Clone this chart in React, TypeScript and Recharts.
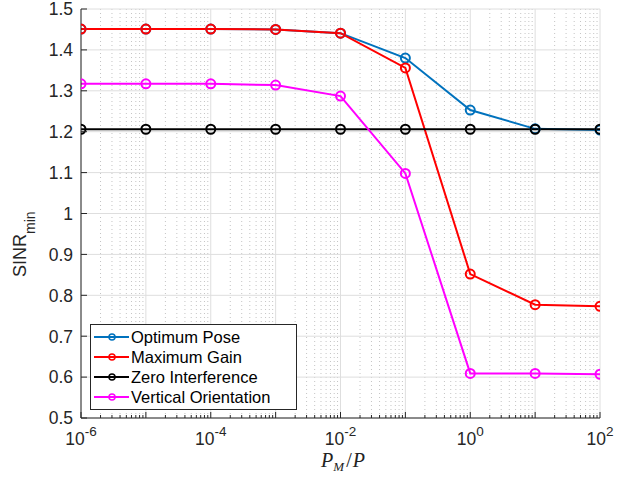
import { LineChart, Line, XAxis, YAxis, CartesianGrid, Legend } from 'recharts';

// P_M / P sweep
const ratios = [1e-6, 1e-5, 1e-4, 1e-3, 1e-2, 1e-1, 1, 10, 100];

const optimumPose = [1.451, 1.451, 1.451, 1.45, 1.441, 1.38, 1.253, 1.207, 1.204];
const maximumGain = [1.451, 1.451, 1.451, 1.45, 1.441, 1.356, 0.852, 0.777, 0.773];
const zeroInterference = [1.206, 1.206, 1.206, 1.206, 1.206, 1.206, 1.206, 1.206, 1.206];
const verticalOrientation = [1.317, 1.317, 1.317, 1.314, 1.287, 1.098, 0.609, 0.609, 0.607];

const decades = [1e-6, 1e-5, 1e-4, 1e-3, 1e-2, 1e-1, 1, 10, 100];
const labeledDecades = [1e-6, 1e-4, 1e-2, 1, 100];
const yTicks = [0.5, 0.6, 0.7, 0.8, 0.9, 1, 1.1, 1.2, 1.3, 1.4, 1.5];

const minorX: number[] = [];
decades.slice(0, -1).forEach((d) => {
  for (let k = 2; k <= 9; k++) minorX.push(k * d);
});
const allX = [...decades, ...minorX];

const series = [
  { key: 'optimum', name: 'Optimum Pose', color: '#0072BD', values: optimumPose },
  { key: 'maxGain', name: 'Maximum Gain', color: '#FF0000', values: maximumGain },
  { key: 'zero', name: 'Zero Interference', color: '#000000', values: zeroInterference },
  { key: 'vertical', name: 'Vertical Orientation', color: '#FF00FF', values: verticalOrientation },
];

const data = ratios.map((r, i) => {
  const row: Record<string, number> = { x: r };
  series.forEach((s) => (row[s.key] = s.values[i]));
  return row;
});

const AXIS = '#262626';
const FONT = '"Liberation Sans", Arial, Helvetica, sans-serif';

const isDecade = (v: number) => decades.some((d) => Math.abs(d - v) / d < 1e-9);
const isLabeled = (v: number) => labeledDecades.some((d) => Math.abs(d - v) / d < 1e-9);

const BottomTick = ({ x, y, payload }: any) => {
  const v = payload.value;
  const len = isDecade(v) ? 6 : 3;
  return (
    <g>
      <line x1={x} x2={x} y1={y} y2={y - len} stroke={AXIS} />
      {isLabeled(v) && (
        <text x={x} y={y + 27} textAnchor="middle" fontSize={17.5} fill={AXIS} fontFamily={FONT}>
          10
          <tspan dy={-9} fontSize={13.5}>{Math.round(Math.log10(v))}</tspan>
        </text>
      )}
    </g>
  );
};

const TopTick = ({ x, y, payload }: any) => {
  const len = isDecade(payload.value) ? 6 : 3;
  return <line x1={x} x2={x} y1={y} y2={y + len} stroke={AXIS} />;
};

const LeftTick = ({ x, y, payload }: any) => (
  <g>
    <line x1={x} x2={x + 6} y1={y} y2={y} stroke={AXIS} />
    <text x={x - 8} y={y} dy="0.36em" textAnchor="end" fontSize={17.5} fill={AXIS} fontFamily={FONT}>
      {String(payload.value)}
    </text>
  </g>
);

const RightTick = ({ x, y }: any) => <line x1={x} x2={x - 6} y1={y} y2={y} stroke={AXIS} />;

const renderLegend = () => (
  <div
    style={{
      border: `1px solid ${AXIS}`,
      background: '#fff',
      width: 205,
      height: 82,
      boxSizing: 'content-box',
      paddingTop: 2,
      fontFamily: FONT,
    }}
  >
    {series.map((s) => (
      <div key={s.key} style={{ display: 'flex', alignItems: 'center', height: 20 }}>
        <svg width={40} height={20}>
          <line x1={3} x2={38} y1={10} y2={10} stroke={s.color} strokeWidth={2} />
          <circle cx={21} cy={10} r={3} fill="none" stroke={s.color} strokeWidth={1.5} />
        </svg>
        <span style={{ fontSize: 16.5, color: '#000', lineHeight: '20px' }}>{s.name}</span>
      </div>
    ))}
  </div>
);

export default function App() {
  return (
    <div style={{ position: 'absolute', left: 0, top: 0, width: 634, height: 478, background: '#fff' }}>
      <LineChart width={634} height={478} data={data} margin={{ top: 9, right: 34, bottom: 0, left: 0 }}>
        <CartesianGrid
          horizontal={false}
          verticalValues={minorX}
          stroke="#c4c4c4"
          strokeDasharray="1 3"
        />
        <CartesianGrid
          horizontalValues={yTicks}
          verticalValues={decades}
          stroke="#dedede"
        />
        <XAxis
          dataKey="x"
          type="number"
          scale="log"
          domain={[1e-6, 100]}
          allowDataOverflow
          ticks={allX}
          interval={0}
          height={60}
          tickSize={0}
          tickMargin={0}
          tick={<BottomTick />}
          axisLine={{ stroke: AXIS }}
          label={{
            content: () => (
              <text x={343} y={467} textAnchor="middle" fontFamily='"Liberation Serif", "DejaVu Serif", serif' fontStyle="italic" fontSize={20} fill="#222">
                P
                <tspan dy={4} fontSize={13}>M</tspan>
                <tspan dy={-4} dx={2} fontStyle="normal">/</tspan>
                <tspan dx={1}>P</tspan>
              </text>
            ),
          }}
        />
        <XAxis
          xAxisId="top"
          dataKey="x"
          type="number"
          scale="log"
          domain={[1e-6, 100]}
          allowDataOverflow
          orientation="top"
          ticks={allX}
          interval={0}
          height={0}
          tickSize={0}
          tickMargin={0}
          tick={<TopTick />}
          axisLine={{ stroke: AXIS }}
        />
        <YAxis
          type="number"
          domain={[0.5, 1.5]}
          ticks={yTicks}
          interval={0}
          width={81}
          tickSize={0}
          tickMargin={0}
          tick={<LeftTick />}
          axisLine={{ stroke: AXIS }}
          label={{
            content: () => (
              <text transform="translate(26, 277) rotate(-90)" fontFamily={FONT} fontSize={18} fill={AXIS}>
                SINR
                <tspan dy={9} fontSize={14}>min</tspan>
              </text>
            ),
          }}
        />
        <YAxis
          yAxisId="right"
          orientation="right"
          type="number"
          domain={[0.5, 1.5]}
          ticks={yTicks}
          interval={0}
          width={0}
          tickSize={0}
          tickMargin={0}
          tick={<RightTick />}
          axisLine={{ stroke: AXIS }}
        />
        {series.map((s) => (
          <Line
            key={s.key}
            dataKey={s.key}
            name={s.name}
            stroke={s.color}
            strokeWidth={2}
            dot={{ r: 4.5, fill: 'none', stroke: s.color, strokeWidth: 2 }}
            activeDot={false}
            isAnimationActive={false}
          />
        ))}
        <Legend
          layout="vertical"
          align="center"
          verticalAlign="middle"
          wrapperStyle={{ left: 90, top: 324, width: 'auto' }}
          content={renderLegend}
        />
      </LineChart>
    </div>
  );
}
